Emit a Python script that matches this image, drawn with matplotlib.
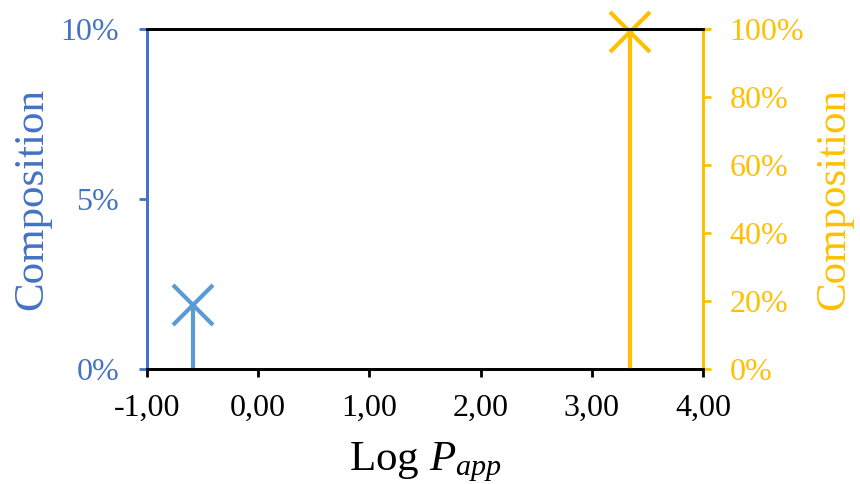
import matplotlib
matplotlib.use("Agg")
import matplotlib.pyplot as plt
from matplotlib.ticker import FuncFormatter

# data
log_papp_left = [-0.586]
composition_left = [1.88]      # % on left axis (0-10 %)
log_papp_right = [3.346]
composition_right = [99.0]     # % on right axis (0-100 %)

x_ticks = [-1.0, 0.0, 1.0, 2.0, 3.0, 4.0]
left_ticks = [0, 5, 10]
right_ticks = [0, 20, 40, 60, 80, 100]

BLUE_AXIS = "#4472C4"
BLUE_MARK = "#5B9BD5"
GOLD = "#FFC000"

plt.rcParams["font.family"] = ["Liberation Serif", "DejaVu Serif"]
plt.rcParams["mathtext.fontset"] = "custom"
plt.rcParams["mathtext.rm"] = "Liberation Serif"
plt.rcParams["mathtext.it"] = "Liberation Serif:italic"

fig = plt.figure(figsize=(8.6, 4.84), dpi=100)
ax = fig.add_axes([147 / 860, 1 - 369 / 484, 556 / 860, 340 / 484])
ax2 = ax.twinx()

ax.vlines(log_papp_left, 0, composition_left, color=BLUE_MARK, linewidth=3.0)
ax.plot(log_papp_left, composition_left, linestyle="", marker="x", markersize=29,
        markeredgewidth=3.0, color=BLUE_MARK)
ax2.vlines(log_papp_right, 0, composition_right, color=GOLD, linewidth=3.0)
ax2.plot(log_papp_right, composition_right, linestyle="", marker="x", markersize=29,
         markeredgewidth=3.0, color=GOLD, clip_on=False)

ax.set_xlim(-1.0, 4.0)
ax.set_ylim(0, 10)
ax2.set_ylim(0, 100)
ax.set_xticks(x_ticks)
ax.xaxis.set_major_formatter(FuncFormatter(lambda v, _: f"{v:.2f}".replace(".", ",")))
ax.set_yticks(left_ticks)
ax.yaxis.set_major_formatter(FuncFormatter(lambda v, _: f"{v:.0f}%"))
ax2.set_yticks(right_ticks)
ax2.yaxis.set_major_formatter(FuncFormatter(lambda v, _: f"{v:.0f}%"))

for a in (ax, ax2):
    for side in ("top", "bottom", "left", "right"):
        a.spines[side].set_linewidth(2.0)
    a.spines["top"].set_color("black")
    a.spines["bottom"].set_color("black")
    a.spines["left"].set_color(BLUE_AXIS)
    a.spines["right"].set_color(GOLD)

ax.tick_params(axis="x", direction="out", length=6, width=2.0, colors="black",
               labelsize=23, pad=12)
ax.tick_params(axis="y", direction="out", length=6, width=2.0, colors=BLUE_AXIS,
               labelsize=23, pad=14)
ax2.tick_params(axis="y", direction="out", length=6, width=2.0, colors=GOLD,
                labelsize=23, pad=13)

ax.set_xlabel(r"Log $P_{app}$", fontsize=31, labelpad=13)
ax.set_ylabel("Composition", fontsize=31, color=BLUE_AXIS, labelpad=7)
ax2.set_ylabel("Composition", fontsize=31, color=GOLD, labelpad=8)

fig.savefig("out.png", dpi=100)
